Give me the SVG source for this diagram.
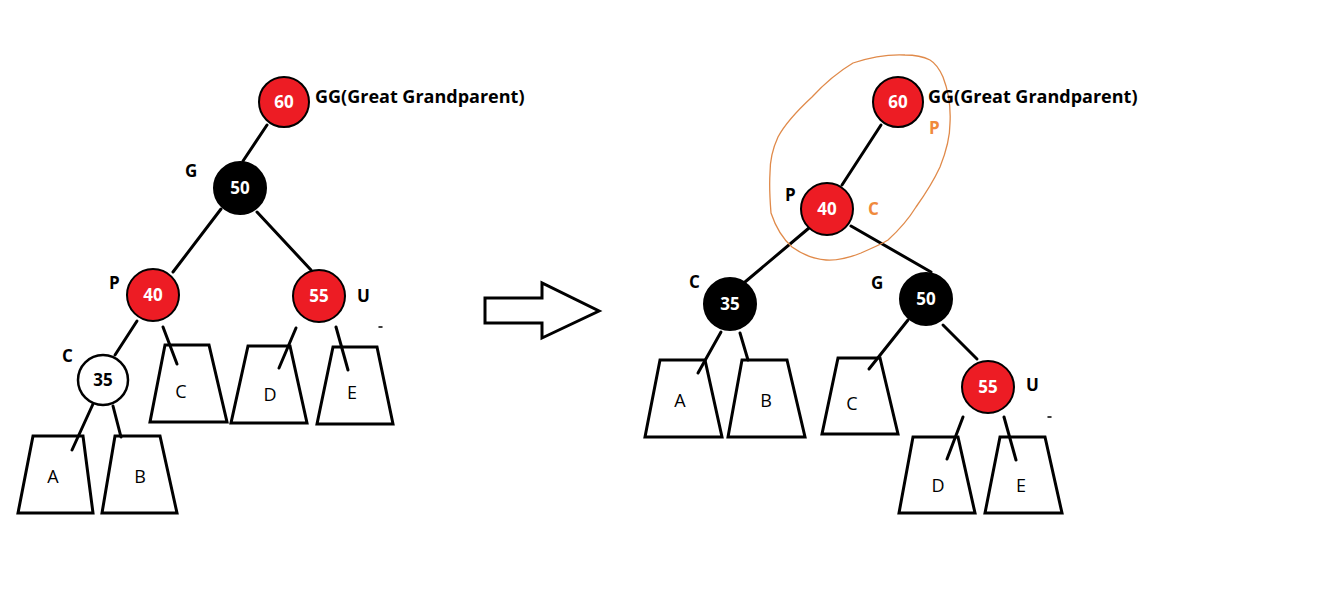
<svg xmlns="http://www.w3.org/2000/svg" width="1329" height="597" viewBox="0 0 1329 597">
<style>
.bg{fill:#fff}
.red{fill:#ED1C24;stroke:#000;stroke-width:2}
.blk{fill:#000;stroke:#000;stroke-width:2}
.wht{fill:#fff;stroke:#000;stroke-width:2.5}
.num{font-family:"Open Sans","Noto Sans",sans-serif;font-weight:700;font-size:17px;fill:#fff;text-anchor:middle}
.numd{font-family:"Open Sans","Noto Sans",sans-serif;font-weight:700;font-size:17px;fill:#000;text-anchor:middle}
.lab{font-family:"Open Sans","Noto Sans",sans-serif;font-weight:700;font-size:17px;fill:#000}
.gg{font-family:"Open Sans","Noto Sans",sans-serif;font-weight:700;font-size:18px;fill:#000}
.olab{font-family:"Open Sans","Noto Sans",sans-serif;font-weight:700;font-size:17px;fill:#F08A3C}
.sub{font-family:"Open Sans","Noto Sans",sans-serif;font-size:18px;fill:#000;text-anchor:middle}
.edge{stroke:#000;stroke-width:3;fill:none;stroke-linecap:round}
.trap{fill:#fff;stroke:#000;stroke-width:3;stroke-linejoin:miter}
.arrow{fill:#fff;stroke:#000;stroke-width:3}
.blob{fill:none;stroke:#E08A4A;stroke-width:1.3}
</style>
<rect class="bg" x="0" y="0" width="1329" height="597"/>

<!-- Left tree: subtrees -->
<g id="L-subtree-A"><polygon class="trap" points="33,436 83,436 93,513 18,513"/><text class="sub" x="53" y="483">A</text></g>
<g id="L-subtree-B"><polygon class="trap" points="115,436 160,436 177,513 102,513"/><text class="sub" x="140" y="483">B</text></g>
<g id="L-subtree-C"><polygon class="trap" points="165,345 209,345 227,422 150,422"/><text class="sub" x="181" y="398">C</text></g>
<g id="L-subtree-D"><polygon class="trap" points="248,346 290,346 307,423 231,423"/><text class="sub" x="270" y="401">D</text></g>
<g id="L-subtree-E"><polygon class="trap" points="333,347 377,347 393,424 317,424"/><text class="sub" x="352" y="399">E</text></g>

<!-- Right tree: subtrees -->
<g id="R-subtree-A"><polygon class="trap" points="660,360 705,360 722,437 645,437"/><text class="sub" x="680" y="407">A</text></g>
<g id="R-subtree-B"><polygon class="trap" points="742,360 787,360 805,437 728,437"/><text class="sub" x="766" y="407">B</text></g>
<g id="R-subtree-C"><polygon class="trap" points="838,358 880,358 898,434 822,434"/><text class="sub" x="852" y="410">C</text></g>
<g id="R-subtree-D"><polygon class="trap" points="913,437 958,437 975,513 899,513"/><text class="sub" x="938" y="492">D</text></g>
<g id="R-subtree-E"><polygon class="trap" points="1000,437 1045,437 1062,513 985,513"/><text class="sub" x="1021" y="492">E</text></g>

<!-- Connectors -->
<g id="connectors">
<line class="edge" x1="267" y1="125" x2="243" y2="161"/>
<line class="edge" x1="221" y1="209" x2="173" y2="272"/>
<line class="edge" x1="257" y1="212" x2="311" y2="270"/>
<line class="edge" x1="137" y1="321" x2="115" y2="355"/>
<line class="edge" x1="93" y1="404" x2="72" y2="450"/>
<line class="edge" x1="113" y1="406" x2="121" y2="437"/>
<line class="edge" x1="163" y1="327" x2="177" y2="364"/>
<line class="edge" x1="296" y1="328" x2="279" y2="368"/>
<line class="edge" x1="336" y1="327" x2="348" y2="370"/>
<line class="edge" x1="379" y1="327" x2="382" y2="327" style="stroke-width:1.5"/>

<line class="edge" x1="881" y1="125" x2="842" y2="185"/>
<line class="edge" x1="809" y1="228" x2="745" y2="282"/>
<line class="edge" x1="851" y1="226" x2="931" y2="272"/>
<line class="edge" x1="721" y1="332" x2="698" y2="373"/>
<line class="edge" x1="740" y1="333" x2="748" y2="360"/>
<line class="edge" x1="908" y1="320" x2="869" y2="369"/>
<line class="edge" x1="943" y1="325" x2="977" y2="359"/>
<line class="edge" x1="963" y1="417" x2="947" y2="459"/>
<line class="edge" x1="1004" y1="417" x2="1016" y2="460"/>
<line class="edge" x1="1048" y1="417" x2="1051" y2="417" style="stroke-width:1.5"/>
</g>

<!-- Left tree nodes -->
<g id="L-60"><circle class="red" cx="284" cy="102" r="25"/><text class="num" x="284" y="108">60</text><text class="gg" x="315" y="103">GG(Great Grandparent)</text></g>
<g id="L-50"><circle class="blk" cx="240" cy="188" r="26"/><text class="num" x="240" y="194">50</text><text class="lab" x="185" y="177">G</text></g>
<g id="L-40"><circle class="red" cx="153" cy="295" r="26"/><text class="num" x="153" y="301">40</text><text class="lab" x="109" y="289">P</text></g>
<g id="L-55"><circle class="red" cx="319" cy="296" r="26"/><text class="num" x="319" y="302">55</text><text class="lab" x="357" y="302">U</text></g>
<g id="L-35"><circle class="wht" cx="103" cy="380" r="25"/><text class="numd" x="103" y="386">35</text><text class="lab" x="62" y="362">C</text></g>

<!-- Transformation arrow -->
<g id="arrow"><polygon class="arrow" points="485,298 542,298 542,283 599,311 542,338 542,323 485,323"/></g>

<!-- Right tree nodes -->
<g id="R-highlight"><path class="blob" d="M905,55 C885,54 868,58 853,63 C838,72 824,84 812,97 C798,110 786,122 778,137 C772,150 770,162 770,173 C769,188 770,200 771,213 C776,228 782,238 792,247 C803,255 814,259 826,260 C840,261 851,257 861,253 C872,248 880,245 888,240 C899,230 908,220 916,207 C926,193 934,180 940,167 C946,152 950,138 950,123 C951,105 948,90 943,77 C939,68 935,63 930,60 C922,56 913,55 905,55 Z"/></g>
<g id="R-60"><circle class="red" cx="898" cy="102" r="25"/><text class="num" x="898" y="108">60</text><text class="gg" x="928" y="103">GG(Great Grandparent)</text><text class="olab" x="929" y="134">P</text></g>
<g id="R-40"><circle class="red" cx="827" cy="209" r="26"/><text class="num" x="827" y="215">40</text><text class="lab" x="785" y="201">P</text><text class="olab" x="868" y="215">C</text></g>
<g id="R-35"><circle class="blk" cx="730" cy="304" r="26"/><text class="num" x="730" y="310">35</text><text class="lab" x="689" y="288">C</text></g>
<g id="R-50"><circle class="blk" cx="926" cy="299" r="26"/><text class="num" x="926" y="305">50</text><text class="lab" x="871" y="289">G</text></g>
<g id="R-55"><circle class="red" cx="988" cy="387" r="26"/><text class="num" x="988" y="393">55</text><text class="lab" x="1026" y="391">U</text></g>
</svg>
